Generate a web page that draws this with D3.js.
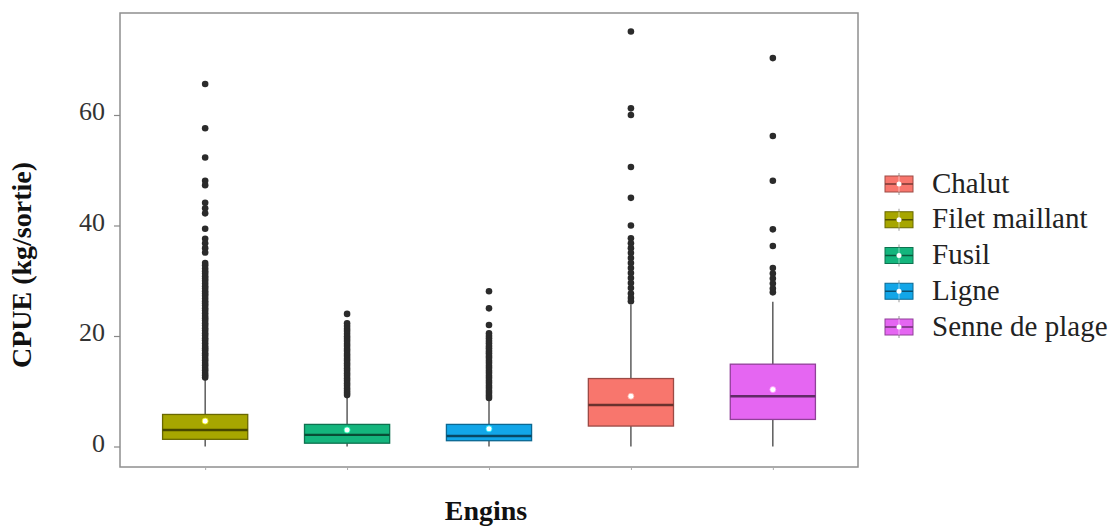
<!DOCTYPE html>
<html>
<head>
<meta charset="utf-8">
<script src="https://cdn.jsdelivr.net/npm/d3@7"></script>
<style>
  body { margin: 0; background: #fff; }
  svg text { font-family: "Liberation Serif", "Times New Roman", serif; }
</style>
</head>
<body>
<div id="chart"></div>
<script>
// categories (plot order) and legend order
let engins = ['Filet maillant', 'Fusil', 'Ligne', 'Chalut', 'Senne de plage'];
let legendOrder = ['Chalut', 'Filet maillant', 'Fusil', 'Ligne', 'Senne de plage'];
let colors = ['#a7a600', '#14b57d', '#12a6e8', '#f8766d', '#e566f2'];

// box statistics, same order as engins
let whiskerLow = [0, 0, 0, 0, 0];
let q1 = [1.3, 0.6, 1.05, 3.7, 4.9];
let medians = [3.0, 2.1, 1.9, 7.5, 9.1];
let q3 = [5.8, 4.0, 4.0, 12.3, 14.9];
let whiskerHigh = [12.2, 9.0, 8.4, 25.7, 26.2];
let means = [4.6, 3.0, 3.2, 9.1, 10.3];

// outliers
let outFilet = [65.6, 57.6, 52.3, 48.1, 47.3, 44.1, 43.1, 42.2, 39.4, 37.6, 36.8, 35.9, 35.1,
    33.2, 32.8, 32.2, 31.7, 31.3, 30.8, 30.4, 30.0, 29.5, 29.0, 28.6, 28.1, 27.7, 27.3, 26.8,
    26.3, 25.9, 25.5, 25.0, 24.6, 24.1, 23.6, 23.2, 22.8, 22.3, 21.9, 21.4, 21.0, 20.5, 20.1,
    19.6, 19.2, 18.7, 18.2, 17.8, 17.4, 16.9, 16.5, 16.0, 15.6, 15.1, 14.7, 14.2, 13.8, 13.3,
    12.9, 12.5];
let outFusil = [24.0, 22.3, 21.8, 21.3, 20.9, 20.4, 19.9, 19.5, 19.1, 18.6, 18.2, 17.7, 17.3,
    16.8, 16.4, 15.9, 15.5, 15.0, 14.6, 14.1, 13.7, 13.2, 12.8, 12.3, 11.9, 11.4, 11.0, 10.5,
    10.1, 9.7, 9.3];
let outLigne = [28.1, 25.0, 22.0, 20.5, 20.0, 19.6, 19.1, 18.7, 18.2, 17.8, 17.3, 16.9, 16.4,
    16.0, 15.5, 15.1, 14.6, 14.2, 13.7, 13.3, 12.8, 12.4, 11.9, 11.5, 11.0, 10.6, 10.1, 9.7,
    9.2, 8.8];
let outChalut = [75.1, 61.2, 60.0, 50.6, 45.0, 40.0, 37.7, 36.8, 35.9, 35.0, 34.1, 33.2, 32.3,
    31.4, 30.5, 29.6, 28.7, 27.7, 26.9, 26.3];
let outSenne = [70.3, 56.2, 48.1, 39.3, 36.3, 32.3, 31.3, 30.4, 29.5, 28.6, 27.9];
let outliers = [outFilet, outFusil, outLigne, outChalut, outSenne];

let yTicks = [0, 20, 40, 60];

let width = 1112, height = 527;
let panel = { left: 120, right: 858, top: 13, bottom: 467 };

let svg = d3.select('#chart').append('svg')
    .attr('width', width)
    .attr('height', height);

let x = d3.scalePoint()
    .domain(engins)
    .range([panel.left, panel.right])
    .padding(0.6);
let y = d3.scaleLinear()
    .domain([-3.71, 78.46])
    .range([panel.bottom, panel.top]);
let boxW = x.step() * 0.6;
let colorOf = d3.scaleOrdinal().domain(engins).range(colors);

let stats = engins.map(function(e, i) {
    return {
        engin: e, lo: whiskerLow[i], q1: q1[i], med: medians[i],
        q3: q3[i], hi: whiskerHigh[i], mean: means[i]
    };
});

let plot = svg.append('g').attr('class', 'boxes');

// whiskers
plot.selectAll('.whisker-up')
    .data(stats).enter().append('line')
    .attr('x1', d => x(d.engin)).attr('x2', d => x(d.engin))
    .attr('y1', d => y(d.q3)).attr('y2', d => y(d.hi))
    .attr('stroke', '#333').attr('stroke-width', 1.2);
plot.selectAll('.whisker-down')
    .data(stats).enter().append('line')
    .attr('x1', d => x(d.engin)).attr('x2', d => x(d.engin))
    .attr('y1', d => y(d.q1)).attr('y2', d => y(d.lo))
    .attr('stroke', '#333').attr('stroke-width', 1.2);

// boxes
plot.selectAll('rect.box')
    .data(stats).enter().append('rect')
    .attr('class', 'box')
    .attr('x', d => x(d.engin) - boxW / 2)
    .attr('width', boxW)
    .attr('y', d => y(d.q3))
    .attr('height', d => y(d.q1) - y(d.q3))
    .attr('fill', d => colorOf(d.engin))
    .attr('stroke', d => d3.color(colorOf(d.engin)).darker(1.3))
    .attr('stroke-width', 1.3);

// medians
plot.selectAll('line.median')
    .data(stats).enter().append('line')
    .attr('class', 'median')
    .attr('x1', d => x(d.engin) - boxW / 2).attr('x2', d => x(d.engin) + boxW / 2)
    .attr('y1', d => y(d.med)).attr('y2', d => y(d.med))
    .attr('stroke', d => d3.color(colorOf(d.engin)).darker(2.4))
    .attr('stroke-width', 2.4);

// means
plot.selectAll('circle.mean')
    .data(stats).enter().append('circle')
    .attr('class', 'mean')
    .attr('cx', d => x(d.engin))
    .attr('cy', d => y(d.mean))
    .attr('r', 3)
    .attr('fill', '#fff')
    .attr('stroke', d => d3.color(colorOf(d.engin)).brighter(1))
    .attr('stroke-width', 0.8);

// outliers
let outPoints = [];
engins.forEach(function(e, i) {
    outliers[i].forEach(function(v) { outPoints.push({ engin: e, v: v }); });
});
plot.selectAll('circle.outlier')
    .data(outPoints).enter().append('circle')
    .attr('class', 'outlier')
    .attr('cx', d => x(d.engin))
    .attr('cy', d => y(d.v))
    .attr('r', 3.3)
    .attr('fill', '#2b2b2b');

// panel border
svg.append('rect')
    .attr('x', panel.left).attr('y', panel.top)
    .attr('width', panel.right - panel.left)
    .attr('height', panel.bottom - panel.top)
    .attr('fill', 'none')
    .attr('stroke', '#8f8f8f')
    .attr('stroke-width', 1.5);

// axes
let gy = svg.append('g')
    .attr('transform', 'translate(' + panel.left + ',0)')
    .call(d3.axisLeft(y).tickValues(yTicks).tickSize(6).tickPadding(9));
gy.attr('font-size', 26).attr('font-family', '"Liberation Serif", serif');
gy.select('.domain').remove();
gy.selectAll('line').attr('stroke', '#888').attr('stroke-width', 1.2);
gy.selectAll('text').attr('fill', '#333').attr('dy', '0.18em');

let gx = svg.append('g')
    .attr('transform', 'translate(0,' + panel.bottom + ')')
    .call(d3.axisBottom(x).tickSize(3).tickFormat(''));
gx.select('.domain').remove();
gx.selectAll('line').attr('stroke', '#aaa');

// titles
svg.append('text')
    .attr('transform', 'translate(31,265) rotate(-90)')
    .attr('text-anchor', 'middle')
    .attr('font-size', 28)
    .attr('font-weight', 'bold')
    .attr('fill', '#111')
    .text('CPUE (kg/sortie)');

svg.append('text')
    .attr('x', 486).attr('y', 520)
    .attr('text-anchor', 'middle')
    .attr('font-size', 28)
    .attr('font-weight', 'bold')
    .attr('fill', '#111')
    .text('Engins');

// legend
let ly = d3.scalePoint().domain(legendOrder).range([184, 327]);
let legend = svg.append('g').attr('class', 'legend');
let items = legend.selectAll('g')
    .data(legendOrder).enter().append('g')
    .attr('transform', d => 'translate(885,' + ly(d) + ')');

items.append('line')
    .attr('x1', 14).attr('x2', 14).attr('y1', -11).attr('y2', 11)
    .attr('stroke', '#999').attr('stroke-width', 1);
items.append('rect')
    .attr('x', 0).attr('y', -8).attr('width', 28).attr('height', 16)
    .attr('fill', d => colorOf(d))
    .attr('stroke', d => d3.color(colorOf(d)).darker(1.3))
    .attr('stroke-width', 1);
items.append('line')
    .attr('x1', 0).attr('x2', 28).attr('y1', 0).attr('y2', 0)
    .attr('stroke', d => d3.color(colorOf(d)).darker(2))
    .attr('stroke-width', 1.5);
items.append('line')
    .attr('x1', 14).attr('x2', 14).attr('y1', -8).attr('y2', 8)
    .attr('stroke', '#fff').attr('stroke-opacity', 0.5).attr('stroke-width', 1);
items.append('circle')
    .attr('cx', 14).attr('cy', 0).attr('r', 2.5)
    .attr('fill', '#fff');
items.append('text')
    .attr('x', 47).attr('y', 0).attr('dy', '0.3em')
    .attr('font-size', 29)
    .attr('fill', '#222')
    .text(d => d);
</script>
</body>
</html>
